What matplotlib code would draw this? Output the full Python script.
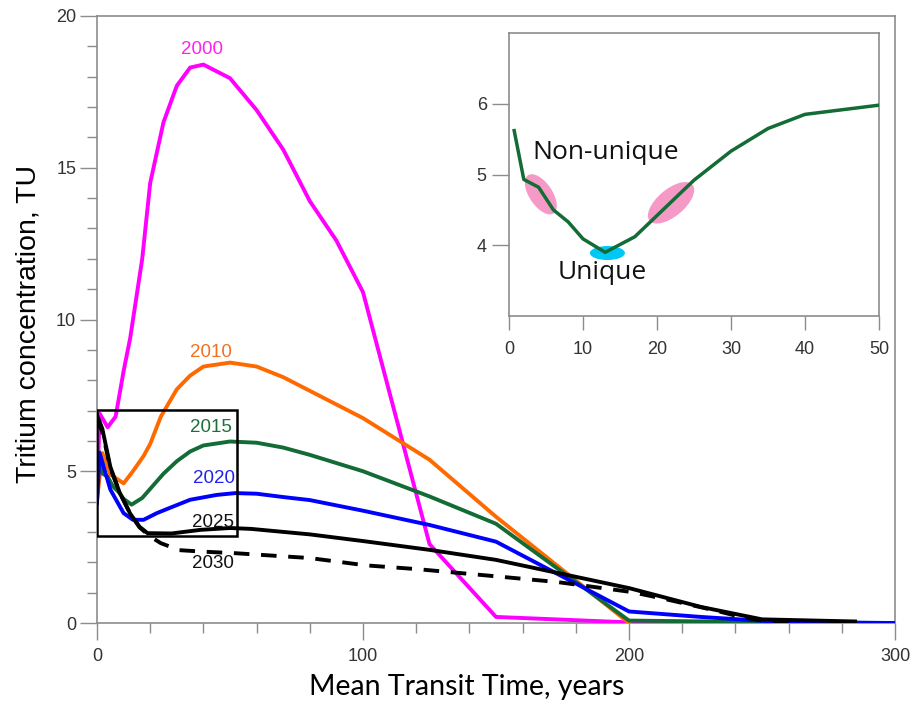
import matplotlib
matplotlib.use("Agg")
import matplotlib.pyplot as plt
from matplotlib.patches import Ellipse, Rectangle
from matplotlib.transforms import ScaledTranslation
from matplotlib.ticker import MultipleLocator

plt.rcParams["font.family"] = ["Liberation Sans", "DejaVu Sans"]

# ---- data ----
x2000 = [0, 1, 4, 7, 10, 12.5, 17, 20, 25, 30, 35, 40, 50, 60, 70, 80, 90, 100, 125, 150, 200, 300]
y2000 = [4.05, 6.9, 6.45, 6.8, 8.3, 9.4, 12.0, 14.5, 16.5, 17.7, 18.3, 18.4, 17.95, 16.9, 15.6, 13.9, 12.6, 10.9, 2.6, 0.2, 0.02, 0.0]

x2010 = [0, 2, 5, 10, 13.5, 17.5, 20, 24, 30, 35, 40, 50, 60, 70, 80, 100, 125, 150, 200]
y2010 = [4.05, 5.6, 4.9, 4.6, 5.0, 5.5, 5.9, 6.8, 7.7, 8.15, 8.45, 8.58, 8.45, 8.1, 7.65, 6.75, 5.38, 3.5, 0.0]

x2015 = [0.7, 2, 4, 6, 8, 10, 13, 17, 19, 25, 30, 35, 40, 50, 60, 70, 80, 100, 125, 150, 200, 250, 300]
y2015 = [5.62, 4.93, 4.82, 4.5, 4.33, 4.09, 3.9, 4.12, 4.32, 4.92, 5.33, 5.65, 5.85, 5.98, 5.94, 5.78, 5.54, 5.0, 4.17, 3.27, 0.08, 0.03, 0.0]

x2020 = [0, 1, 5, 10, 13.5, 17.5, 22.5, 27, 35, 45, 52, 60, 70, 80, 100, 125, 150, 200, 227, 245, 260, 300]
y2020 = [3.95, 5.6, 4.4, 3.62, 3.4, 3.4, 3.62, 3.78, 4.06, 4.22, 4.28, 4.26, 4.15, 4.05, 3.7, 3.23, 2.68, 0.38, 0.2, 0.1, 0.02, 0.0]

x2025 = [0, 2, 5, 8.5, 12.5, 16, 19, 28, 39, 50, 58, 80, 100, 125, 150, 200, 227, 250, 270, 285]
y2025 = [6.85, 6.4, 5.15, 4.3, 3.6, 3.17, 2.96, 2.95, 3.07, 3.13, 3.1, 2.92, 2.7, 2.41, 2.08, 1.15, 0.53, 0.12, 0.08, 0.05]

x2030 = [0, 2, 5, 8.5, 12.5, 16, 20, 24, 31, 40, 52, 80, 101, 121, 151, 173, 201, 213, 223, 233, 242, 250, 260]
y2030 = [6.7, 6.3, 5.1, 4.3, 3.6, 3.15, 2.85, 2.63, 2.4, 2.35, 2.3, 2.14, 1.9, 1.77, 1.53, 1.35, 1.02, 0.8, 0.6, 0.4, 0.2, 0.08, 0.05]

years = ["2000", "2010", "2015", "2020", "2025", "2030"]
label_x = [39.5, 43, 43, 44, 43.5, 43.5]
label_y = [18.9, 8.9, 6.45, 4.75, 3.3, 1.95]

x_ticks = [0, 100, 200, 300]
y_ticks = [0, 5, 10, 15, 20]
inset_xticks = [0, 10, 20, 30, 40, 50]
inset_yticks = [4, 5, 6]

C2000 = "#ff00ff"
C2010 = "#ff6a00"
C2015 = "#136b35"
C2020 = "#0000ff"
CBLK = "#000000"
GRAY = "#8c8c8c"

fig = plt.figure(figsize=(9.12, 7.07), dpi=100)
ax = fig.add_axes([97/912, (707-623)/707, 798/912, 607/707])

lw = 2.8
ax.plot(x2000, y2000, color=C2000, lw=lw, zorder=3)
ax.plot(x2010, y2010, color=C2010, lw=lw, zorder=3)
ax.plot(x2015, y2015, color=C2015, lw=lw, zorder=3)
ax.plot(x2020, y2020, color=C2020, lw=lw, zorder=3)
ax.plot(x2025, y2025, color=CBLK, lw=lw, zorder=3)
ax.plot(x2030, y2030, color=CBLK, lw=lw, ls=(0, (4, 3)), zorder=3)

label_colors = ["#ff22ee", "#f07020", "#1e6e3c", "#2222ee", "#111111", "#111111"]
for yr, lx, ly, c in zip(years, label_x, label_y, label_colors):
    ax.text(lx, ly, yr, color=c, fontsize=13.5, ha="center", va="center", zorder=5)

# rectangle marking zoomed region
ax.add_patch(Rectangle((0, 2.88), 52.6, 4.15, fill=False, ec="black", lw=1.8, zorder=4))

ax.set_xlim(0, 300)
ax.set_ylim(0, 20)
ax.set_xticks(x_ticks)
ax.set_yticks(y_ticks)
ax.xaxis.set_minor_locator(MultipleLocator(20))
ax.yaxis.set_minor_locator(MultipleLocator(1))
ax.tick_params(which="major", direction="out", length=12, width=1, color=GRAY,
               labelsize=13, labelcolor="#333333")
ax.tick_params(axis="x", which="major", pad=6)
ax.tick_params(axis="y", which="major", pad=3)
ax.tick_params(which="minor", direction="out", length=7, width=1, color=GRAY)
for sp in ax.spines.values():
    sp.set_color(GRAY)
    sp.set_linewidth(1.2)

ax.set_xlabel("Mean Transit Time, years", fontsize=20.5, family=["Lato", "DejaVu Sans"])
ax.xaxis.set_label_coords(370/798, (623-674)/607)
ax.set_ylabel("Tritium concentration, TU", fontsize=20.5)
ax.yaxis.set_label_coords((42-97)/798, (623-324)/607)

# ---- inset ----
ins = fig.add_axes([509/912, (707-316)/707, 370/912, 283/707])
ins.set_facecolor("white")
ins.set_xlim(0, 50)
ins.set_ylim(3, 7)
ins.set_xticks(inset_xticks)
ins.set_yticks(inset_yticks)
ins.tick_params(direction="out", width=1, color=GRAY, labelsize=13, labelcolor="#333333")
ins.tick_params(axis="x", length=10, pad=8)
ins.tick_params(axis="y", length=12, pad=4)
for sp in ins.spines.values():
    sp.set_color(GRAY)
    sp.set_linewidth(1.2)

def ell(axx, cx, cy, w_px, h_px, ang, color):
    e = Ellipse((0, 0), w_px/100, h_px/100, angle=ang,
                transform=fig.dpi_scale_trans + ScaledTranslation(cx, cy, axx.transData),
                facecolor=color, edgecolor="none", zorder=2)
    axx.add_patch(e)

ell(ins, 4.3, 4.72, 46, 23, -56, "#f59ac6")
ell(ins, 21.9, 4.6, 56, 27, 40, "#f59ac6")
ell(ins, 13.3, 3.89, 35, 14, 0, "#00c8f5")

ins.plot(x2015[:14], y2015[:14], color="#136b35", lw=2.5, zorder=3)

ins.text(3.2, 5.31, "Non-unique", fontsize=19, family=["Open Sans", "DejaVu Sans"],
         ha="left", va="center", color="#111111")
ins.text(12.6, 3.62, "Unique", fontsize=19, family=["Open Sans", "DejaVu Sans"],
         ha="center", va="center", color="#111111")

fig.savefig("out.png", dpi=100)
